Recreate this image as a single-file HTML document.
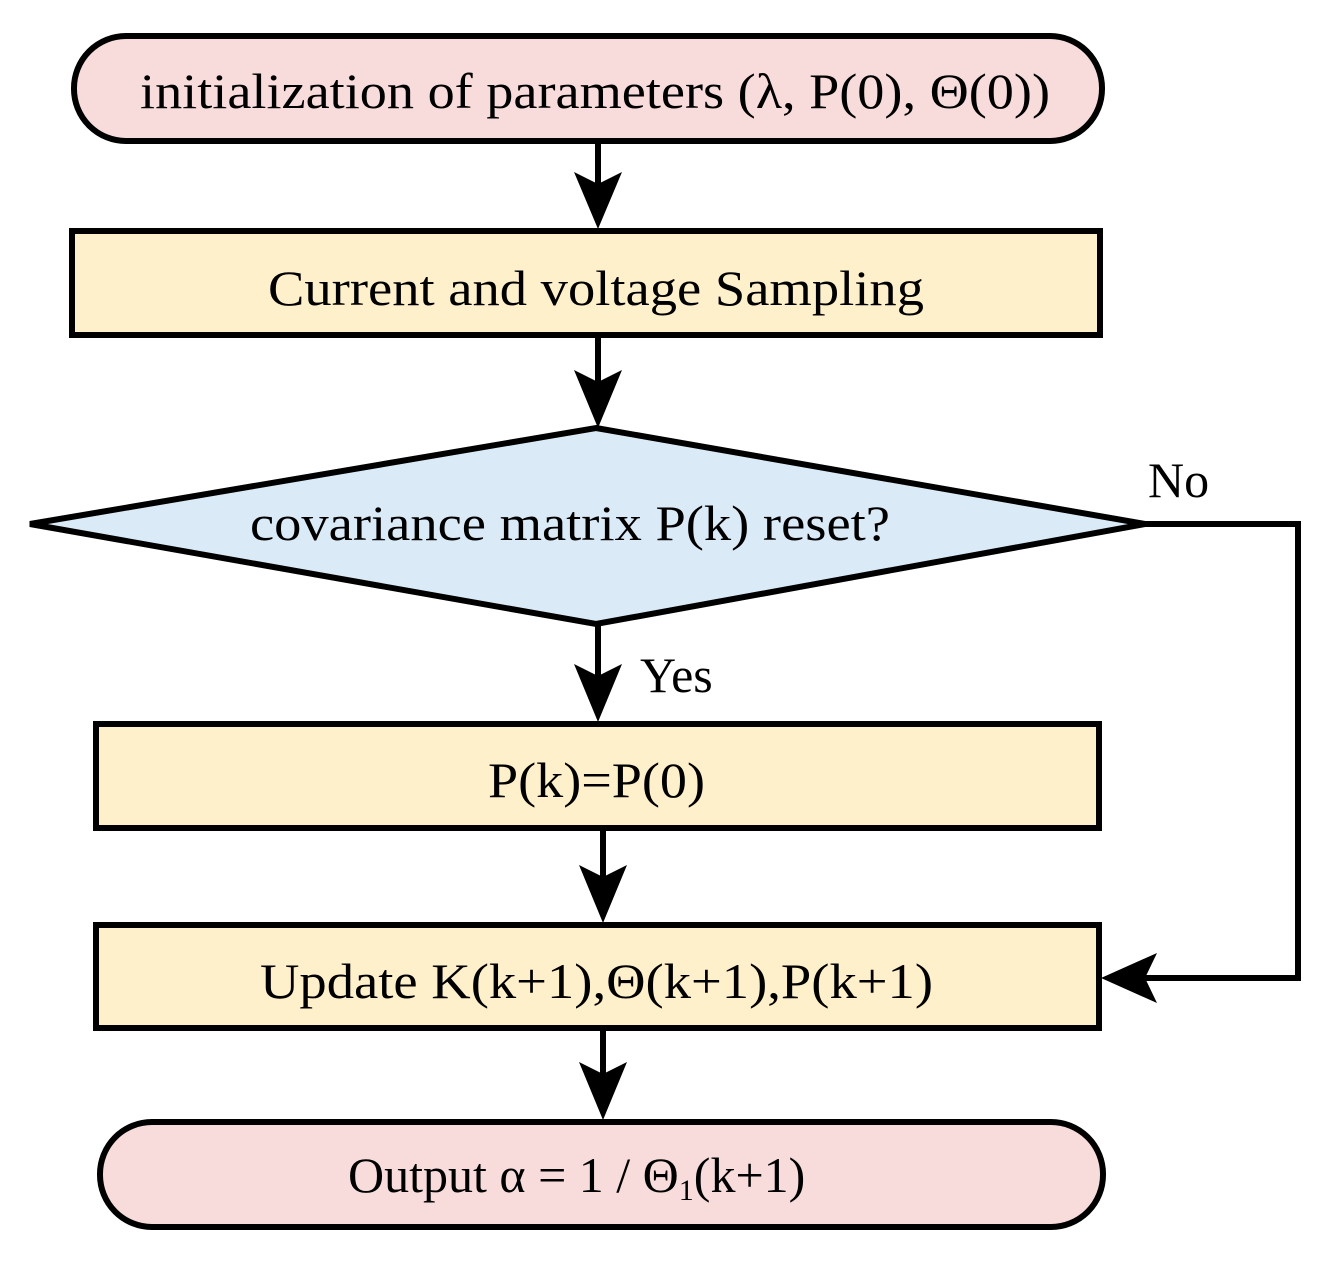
<!DOCTYPE html>
<html><head><style>body{margin:0;background:#fff}</style></head><body>
<svg width="1325" height="1264" viewBox="0 0 1325 1264" xmlns="http://www.w3.org/2000/svg" font-family="Liberation Serif, serif" font-size="50" fill="#000">
<g stroke="#000" stroke-width="6">
<rect x="74" y="36" width="1028" height="105" rx="52" fill="#f8dcdc"/>
<rect x="72" y="231" width="1028" height="104" fill="#fff0cc"/>
<polygon points="596,428 1145,524 596,624 30,524" fill="#dbeaf7" stroke-linejoin="miter"/>
<rect x="96" y="724" width="1003" height="104" fill="#fff0cc"/>
<rect x="96" y="925" width="1003" height="103" fill="#fff0cc"/>
<rect x="100" y="1122" width="1003" height="105" rx="52" fill="#f8dcdc"/>
<line x1="598" y1="141" x2="598" y2="200"/>
<line x1="598" y1="335" x2="598" y2="400"/>
<line x1="598" y1="624" x2="598" y2="690"/>
<line x1="603" y1="828" x2="603" y2="892"/>
<line x1="603" y1="1028" x2="603" y2="1090"/>
<polyline points="1145,524 1298,524 1298,978 1130,978" fill="none"/>
</g>
<polygon points="574,172 598,184 622,172 598,229"/>
<polygon points="574,370 598,382 622,370 598,428"/>
<polygon points="574,664 598,676 622,664 598,722"/>
<polygon points="579,865 603,877 627,865 603,923"/>
<polygon points="579,1062 603,1074 627,1062 603,1120"/>
<polygon points="1157,953 1145,978 1157,1003 1101,978"/>
<text x="140" y="108" textLength="910" lengthAdjust="spacingAndGlyphs">initialization of parameters (λ, P(0), Θ(0))</text>
<text x="268" y="305" textLength="656" lengthAdjust="spacingAndGlyphs">Current and voltage Sampling</text>
<text x="250" y="540" textLength="640" lengthAdjust="spacingAndGlyphs">covariance matrix P(k) reset?</text>
<text x="488" y="797" textLength="217" lengthAdjust="spacingAndGlyphs">P(k)=P(0)</text>
<text x="260" y="998" textLength="673" lengthAdjust="spacingAndGlyphs">Update K(k+1),Θ(k+1),P(k+1)</text>
<text x="348" y="1192">Output α = 1 / Θ<tspan font-size="30" dy="8">1</tspan><tspan dy="-8">(k+1)</tspan></text>
<text x="1148" y="497">No</text>
<text x="640" y="692">Yes</text>
</svg>
</body></html>
